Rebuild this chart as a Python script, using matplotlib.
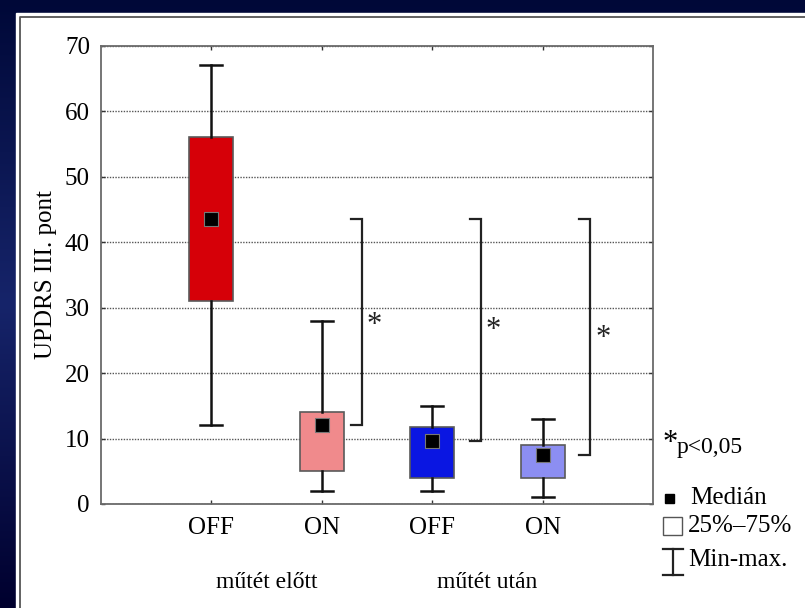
import matplotlib.pyplot as plt
from matplotlib.colors import LinearSegmentedColormap
from matplotlib.patches import Rectangle
from matplotlib.lines import Line2D
import numpy as np

# UPDRS III scores, before and after surgery
conditions = ["OFF", "ON", "OFF", "ON"]
groups = ["műtét előtt", "műtét után"]
medians = [43.5, 12, 9.6, 7.5]
q1 = [31, 5, 4, 4]
q3 = [56, 14, 11.8, 9]
mins = [12, 2, 2, 1]
maxs = [67, 28, 15, 13]
box_colors = ["#d60008", "#f08a8c", "#0a16e2", "#8c8ef2"]
# significance brackets: from the OFF median before surgery down to the other medians
bracket_top = 43.6
bracket_targets = [1, 2, 3]
bracket_x = [2.36, 3.44, 4.43]
star_y = [27.3, 26.5, 25.3]

plt.rcParams["font.family"] = ["Liberation Serif", "DejaVu Serif"]

W, H = 805, 608
fig = plt.figure(figsize=(W / 100, H / 100), dpi=100)
fig.patch.set_facecolor("#0a1048")

# navy backdrop with a white panel on top
bg = fig.add_axes([0, 0, 1, 1], zorder=-10)
grad = np.linspace(0, 1, 256).reshape(-1, 1)
navy = LinearSegmentedColormap.from_list(
    "navy", ["#000838", "#16246a", "#00002e"])
bg.imshow(grad, aspect="auto", extent=[0, W, 0, H], cmap=navy)
bg.add_patch(Rectangle((16, 0), W - 16, H - 13, color="white"))
bg.plot([20, 20, W], [0, H - 17, H - 17], color="#555555", lw=1.3)
bg.set_xlim(0, W)
bg.set_ylim(0, H)
bg.axis("off")

ax = fig.add_axes([101 / W, 1 - 504 / H, (653 - 101) / W, (504 - 45.7) / H])
ax.set_facecolor("none")

pos = np.arange(1, len(conditions) + 1)
stats = []
for i in range(len(conditions)):
    stats.append(dict(med=medians[i], q1=q1[i], q3=q3[i],
                      whislo=mins[i], whishi=maxs[i]))

bp = ax.bxp(stats, positions=pos, widths=0.4, showfliers=False,
            patch_artist=True,
            boxprops=dict(edgecolor="#5a5a5a", linewidth=1.2),
            whiskerprops=dict(color="#111111", linewidth=1.8),
            capprops=dict(color="#111111", linewidth=1.8),
            medianprops=dict(visible=False))
for patch, c in zip(bp["boxes"], box_colors):
    patch.set_facecolor(c)
for cap in bp["caps"]:
    xd = cap.get_xdata()
    mid = (xd[0] + xd[1]) / 2
    cap.set_xdata([mid - 0.1, mid + 0.1])

ax.scatter(pos, medians, marker="s", s=110, color="black",
           edgecolor="#777777", linewidth=0.8, zorder=5)

# brackets with asterisks
for k, j in enumerate(bracket_targets):
    bx = bracket_x[k]
    ax.plot([bx - 0.1, bx, bx, bx - 0.1],
            [bracket_top, bracket_top, medians[j], medians[j]],
            color="#222222", lw=1.6, solid_joinstyle="miter", zorder=4)
    ax.text(bx + 0.115, star_y[k], "*", fontsize=22,
            ha="center", va="center", color="#222222")

ax.set_xlim(0, 5)
ax.set_ylim(0, 70)
ax.set_yticks(range(0, 71, 10))
ax.set_xticks(pos)
ax.set_xticklabels(conditions)
ax.tick_params(axis="both", direction="in", length=3, width=1,
               color="#333333", top=True, right=True)
ax.tick_params(axis="x", pad=9, labelsize=18)
ax.tick_params(axis="y", pad=8, labelsize=18)
ax.yaxis.grid(True, linestyle=(0, (1, 1)), color="#555555", linewidth=1)
ax.set_axisbelow(True)
for s in ax.spines.values():
    s.set_color("#6a6a6a")
    s.set_linewidth(1.3)
ax.set_ylabel("UPDRS III. pont", fontsize=18, labelpad=6)

for g, name in enumerate(groups):
    xc = (pos[2 * g] + pos[2 * g + 1]) / 2
    ax.text(xc, -0.172, name, transform=ax.get_xaxis_transform(),
            ha="center", va="center", fontsize=17)


# key on the right, placed in figure pixels
def fx(px):
    return px / W


def fy(py):
    return 1 - py / H


fig.text(fx(670), fy(444), "*", fontsize=22, ha="center", va="center")
fig.text(fx(677), fy(447), "p<0,05", fontsize=17, ha="left", va="center")
fig.add_artist(Rectangle((fx(665), fy(503)), 9 / W, 9 / H,
                         transform=fig.transFigure, color="black"))
fig.text(fx(690), fy(498), "Medián", fontsize=18, ha="left", va="center")
fig.add_artist(Rectangle((fx(663), fy(535)), 19 / W, 18 / H,
                         transform=fig.transFigure, facecolor="white",
                         edgecolor="#555555", lw=1))
fig.text(fx(688), fy(526), "25%–75%", fontsize=18, ha="left", va="center")
for yy in (549, 575):
    fig.add_artist(Line2D([fx(663), fx(683)], [fy(yy), fy(yy)],
                          transform=fig.transFigure, color="#222222", lw=1.6))
fig.add_artist(Line2D([fx(673), fx(673)], [fy(549), fy(575)],
                      transform=fig.transFigure, color="#222222", lw=1.6))
fig.text(fx(688), fy(560), "Min-max.", fontsize=18, ha="left", va="center")

fig.savefig("out.png", dpi=100, facecolor=fig.get_facecolor())
